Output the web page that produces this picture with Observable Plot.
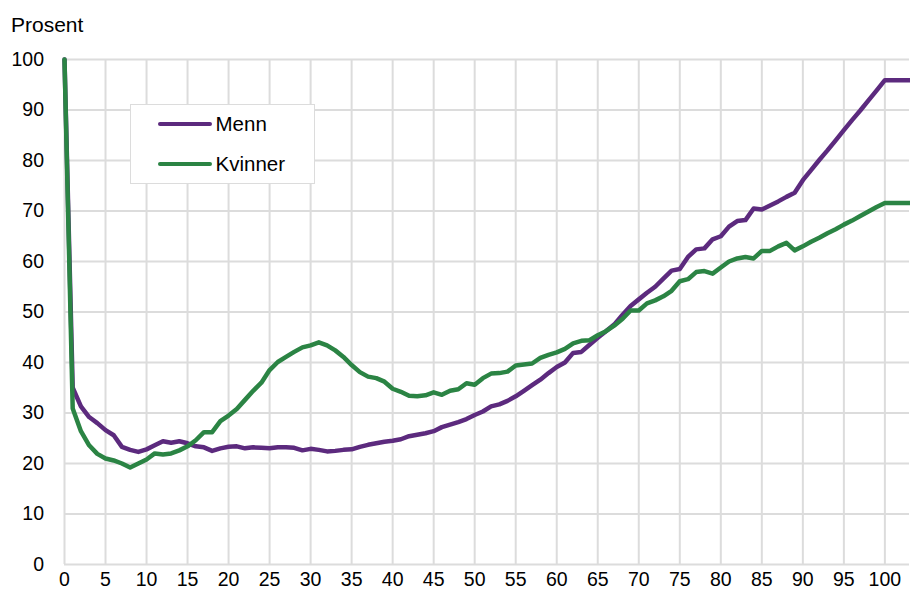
<!DOCTYPE html>
<html><head><meta charset="utf-8">
<script src="https://cdn.jsdelivr.net/npm/d3@7"></script>
<script src="https://cdn.jsdelivr.net/npm/@observablehq/plot@0.6"></script>
<style>
body{margin:0;background:#fff;font-family:"Liberation Sans",Arial,sans-serif;}
#wrap{position:relative;width:910px;height:590px;overflow:hidden}
#unit{position:absolute;left:11px;top:14.3px;font-size:21px;color:#000;line-height:1}
#legend{position:absolute;left:129.5px;top:103.5px;width:183px;height:78.5px;border:1.5px solid #dcdcdc;background:#fff}
.item{position:absolute;left:27px;height:24px;display:flex;align-items:center;font-size:20.5px;color:#000;white-space:nowrap}
.sw{width:54px;height:4.5px;border-radius:2.25px;margin-right:4px}
svg{position:absolute;left:0;top:0}
</style></head><body>
<div id="wrap"></div>
<script>
const ages = [0,1,2,3,4,5,6,7,8,9,10,11,12,13,14,15,16,17,18,19,20,21,22,23,24,25,26,27,28,29,30,31,32,33,34,35,36,37,38,39,40,41,42,43,44,45,46,47,48,49,50,51,52,53,54,55,56,57,58,59,60,61,62,63,64,65,66,67,68,69,70,71,72,73,74,75,76,77,78,79,80,81,82,83,84,85,86,87,88,89,90,91,92,93,94,95,96,97,98,99,100,101,102,103];
const menn = [100,35,31.3,29.2,28.0,26.6,25.6,23.3,22.7,22.3,22.8,23.6,24.4,24.1,24.4,24.0,23.4,23.2,22.5,23.0,23.3,23.4,23.0,23.2,23.1,23.0,23.2,23.2,23.1,22.6,22.9,22.7,22.4,22.5,22.7,22.8,23.3,23.7,24.0,24.3,24.5,24.8,25.4,25.7,26.0,26.4,27.2,27.7,28.2,28.8,29.6,30.3,31.3,31.7,32.4,33.3,34.4,35.5,36.6,37.9,39.1,40.0,41.9,42.1,43.5,44.9,46.2,47.5,49.4,51.2,52.5,53.8,55.0,56.6,58.2,58.5,60.9,62.4,62.6,64.4,65.0,66.9,68.0,68.2,70.5,70.3,71.1,71.9,72.8,73.6,76.1,78.1,80.1,82.0,84.0,86.0,88.0,89.9,91.9,93.9,95.9,95.9,95.9,95.9];
const kvinner = [100,30.9,26.4,23.6,21.9,21.0,20.6,20.0,19.2,20.0,20.8,22.0,21.8,22.0,22.6,23.4,24.6,26.2,26.2,28.4,29.5,30.8,32.6,34.4,36.0,38.5,40.1,41.1,42.1,43.0,43.4,44.0,43.4,42.4,41.1,39.5,38.1,37.2,36.9,36.2,34.8,34.2,33.4,33.3,33.5,34.1,33.6,34.4,34.7,35.9,35.6,36.9,37.8,37.9,38.2,39.4,39.6,39.8,40.9,41.5,42.0,42.7,43.8,44.3,44.4,45.4,46.2,47.3,48.6,50.3,50.3,51.7,52.3,53.1,54.2,56.1,56.5,57.9,58.1,57.6,58.8,60.0,60.6,60.9,60.6,62.1,62.1,63.0,63.7,62.2,63.0,63.9,64.7,65.6,66.4,67.3,68.1,69.0,69.9,70.8,71.6,71.6,71.6,71.6];
const xTicks = [0,5,10,15,20,25,30,35,40,45,50,55,60,65,70,75,80,85,90,95,100];
const yTicks = [0,10,20,30,40,50,60,70,80,90,100];
const seriesNames = ["Menn","Kvinner"];
const seriesColors = ["#5c2a7e","#2b8444"];
const unitLabel = "Prosent";

const gridStyle = {stroke:"#dcdcdc", strokeOpacity:1, strokeWidth:2};
const chart = Plot.plot({
  width:910, height:590,
  marginTop:59, marginBottom:26, marginLeft:64, marginRight:1,
  style:{fontFamily:"'Liberation Sans', Arial, sans-serif", fontSize:"19.5px", color:"#000", background:"transparent"},
  x:{domain:[0,103], ticks:xTicks, tickSize:0, tickPadding:7.5, label:null, tickFormat:d=>String(d)},
  y:{domain:[0,100], ticks:yTicks, tickSize:0, tickPadding:20.5, label:null, tickFormat:d=>String(d)},
  marks:[
    Plot.gridX(xTicks, gridStyle),
    Plot.gridY(yTicks, gridStyle),
    Plot.line(ages, {x:d=>d, y:(d,i)=>menn[i], stroke:seriesColors[0], strokeWidth:4.5, strokeLinejoin:"round"}),
    Plot.line(ages, {x:d=>d, y:(d,i)=>kvinner[i], stroke:seriesColors[1], strokeWidth:4.5, strokeLinejoin:"round"})
  ]
});
const wrap = document.getElementById("wrap");
wrap.appendChild(chart);
const unit = document.createElement("div");
unit.id = "unit"; unit.textContent = unitLabel;
wrap.appendChild(unit);
const leg = document.createElement("div");
leg.id = "legend";
seriesNames.forEach((n,i)=>{
  const it = document.createElement("div");
  it.className = "item";
  it.style.top = (i===0 ? 7.5 : 47.5) + "px";
  const sw = document.createElement("span");
  sw.className = "sw"; sw.style.background = seriesColors[i];
  const t = document.createElement("span"); t.textContent = n;
  it.appendChild(sw); it.appendChild(t);
  leg.appendChild(it);
});
wrap.appendChild(leg);
</script>
</body></html>
